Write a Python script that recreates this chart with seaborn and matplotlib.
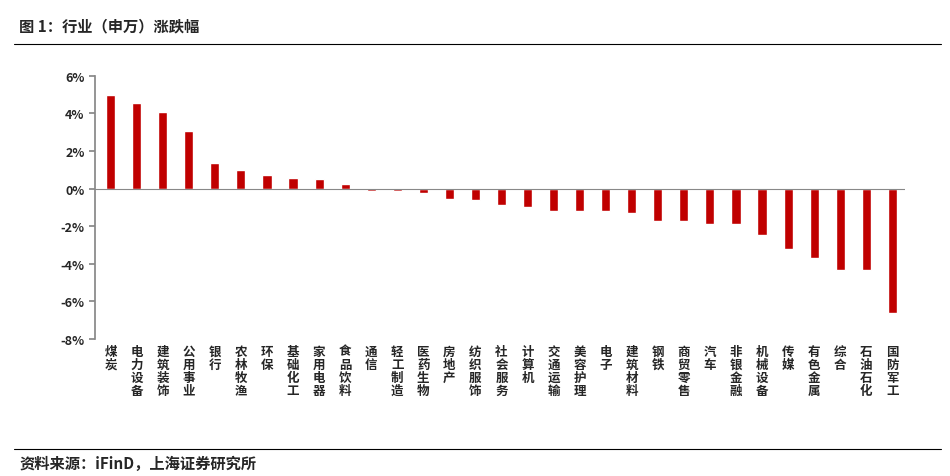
import matplotlib.pyplot as plt
import seaborn as sns
import pandas as pd

industries = ["煤炭", "电力设备", "建筑装饰", "公用事业", "银行", "农林牧渔", "环保", "基础化工",
              "家用电器", "食品饮料", "通信", "轻工制造", "医药生物", "房地产", "纺织服饰", "社会服务",
              "计算机", "交通运输", "美容护理", "电子", "建筑材料", "钢铁", "商贸零售", "汽车",
              "非银金融", "机械设备", "传媒", "有色金属", "综合", "石油石化", "国防军工"]
changes = [5.0, 4.55, 4.1, 3.05, 1.35, 1.0, 0.75, 0.55, 0.5, 0.25, -0.1, -0.15, -0.25, -0.55,
           -0.6, -0.85, -0.95, -1.2, -1.2, -1.2, -1.3, -1.7, -1.7, -1.9, -1.9, -2.45, -3.2,
           -3.7, -4.3, -4.3, -6.6]
yticks = [6, 4, 2, 0, -2, -4, -6, -8]

sns.set_theme(style="white")
plt.rcParams['font.family'] = ['Noto Sans CJK SC', 'DejaVu Sans']

df = pd.DataFrame({"industry": industries, "change": changes})

fig = plt.figure(figsize=(9.5, 4.77), dpi=100)
ax = fig.add_axes([0.1, 0.287, 0.853, 0.552])
sns.barplot(data=df, x="industry", y="change", color="#c00000", saturation=1, width=0.35, ax=ax)

ax.set_ylim(-8, 6)
ax.set_yticks(yticks)
ax.set_yticklabels([f"{v}%" for v in yticks], fontsize=9, fontweight="bold")
ax.set_xticks(range(len(industries)))
ax.set_xticklabels(["\n".join(s) for s in industries], fontsize=9, fontweight="bold",
                   linespacing=1.0, va="top")
ax.set_xlabel("")
ax.set_ylabel("")
ax.set_xlim(-0.6, len(industries) - 0.5)
for s in ["top", "right", "bottom"]:
    ax.spines[s].set_visible(False)
ax.spines["left"].set_color("#888888")
ax.axhline(0, color="#888888", linewidth=0.8)
ax.tick_params(axis="y", length=4, direction="out", left=True, color="#888888")
ax.tick_params(axis="x", length=0, pad=4)

fig.text(0.02, 0.945, "图 1：行业（申万）涨跌幅", fontsize=11, fontweight="bold", va="center")
fig.add_artist(plt.Line2D([0.015, 0.99], [0.905, 0.905], color="black", linewidth=0.8))
fig.add_artist(plt.Line2D([0.015, 0.99], [0.057, 0.057], color="black", linewidth=0.8))
fig.text(0.02, 0.028, "资料来源：iFinD，上海证券研究所", fontsize=11, fontweight="bold",
         fontstyle="italic", va="center")

fig.savefig("out.png", dpi=100)
